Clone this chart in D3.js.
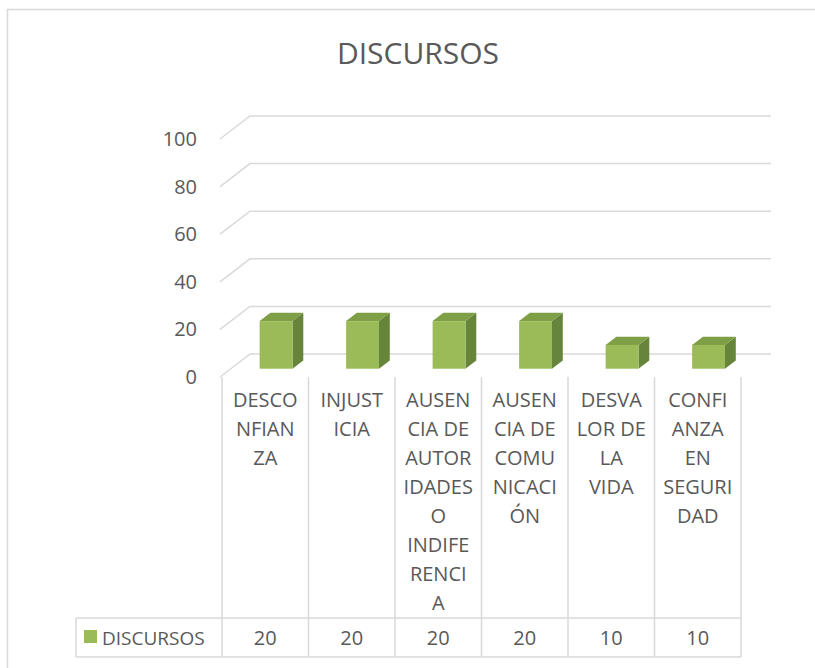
<!DOCTYPE html>
<html>
<head>
<meta charset="utf-8">
<script src="https://cdn.jsdelivr.net/npm/d3@7"></script>
<style>
  body { margin: 0; background: #fff; }
  svg text { font-family: "Open Sans", sans-serif; fill: #595959; }
</style>
</head>
<body>
<svg id="chart" width="815" height="668"></svg>
<script>
// data
var title = "DISCURSOS";
var seriesName = "DISCURSOS";
var categories = ["DESCONFIANZA", "INJUSTICIA", "AUSENCIA DE AUTORIDADES O INDIFERENCIA",
  "AUSENCIA DE COMUNICACIÓN", "DESVALOR DE LA VIDA", "CONFIANZA EN SEGURIDAD"];
var values = [20, 20, 20, 20, 10, 10];
var labelLines = [
  ["DESCO", "NFIAN", "ZA"],
  ["INJUST", "ICIA"],
  ["AUSEN", "CIA DE", "AUTOR", "IDADES", "O", "INDIFE", "RENCI", "A"],
  ["AUSEN", "CIA DE", "COMU", "NICACI", "ÓN"],
  ["DESVA", "LOR DE", "LA", "VIDA"],
  ["CONFI", "ANZA", "EN", "SEGURI", "DAD"]
];
var yTicks = [0, 20, 40, 60, 80, 100];

var grid = "#d9d9d9";
var svg = d3.select("#chart");

// 3d offset of the back wall
var depthX = 30, depthY = -23;

var x = d3.scaleBand().domain(categories).range([222, 741]);
var y = d3.scaleLinear().domain([0, 100]).range([377, 139]);

// outer frame
svg.append("rect")
  .attr("x", 7.5).attr("y", 9.5)
  .attr("width", 830).attr("height", 700)
  .attr("fill", "none").attr("stroke", grid).attr("stroke-width", 1.5);

svg.append("text")
  .attr("x", 418).attr("y", 64)
  .attr("text-anchor", "middle")
  .style("font-size", "30px")
  .text(title);

// gridlines (diagonal on the side wall, then straight along the back)
svg.append("g").selectAll("path")
  .data(yTicks).enter()
  .append("path")
  .attr("d", function(d) {
    var y0 = y(d);
    return "M220," + y0 + "L" + (220 + depthX) + "," + (y0 + depthY) +
      "L" + (x.range()[1] + depthX) + "," + (y0 + depthY);
  })
  .attr("fill", "none").attr("stroke", grid).attr("stroke-width", 1.5);

var yAxis = svg.append("g")
  .attr("transform", "translate(205,0)")
  .call(d3.axisLeft(y).tickValues(yTicks).tickSize(0).tickPadding(8));
yAxis.select(".domain").remove();
yAxis.selectAll("text")
  .style("font-size", "20px").style("fill", "#595959")
  .style("font-family", "'Open Sans', sans-serif");

// bars
var t0 = 0.36, t1 = 0.72;
var barW = x.bandwidth() * 0.38;
var bars = svg.append("g").selectAll("g")
  .data(values).enter()
  .append("g");

function pt(px, py) { return px + "," + py; }

bars.each(function(v, i) {
  var g = d3.select(this);
  var cx = x(categories[i]) + x.bandwidth() / 2;
  var fx0 = cx - barW / 2 + t0 * depthX, fx1 = fx0 + barW;
  var ft = y(v) + t0 * depthY, fb = y(0) + t0 * depthY;
  var ddx = (t1 - t0) * depthX, ddy = (t1 - t0) * depthY;
  g.append("polygon") // side
    .attr("points", [pt(fx1, ft), pt(fx1 + ddx, ft + ddy), pt(fx1 + ddx, fb + ddy), pt(fx1, fb)].join(" "))
    .attr("fill", "#66853a");
  g.append("polygon") // top
    .attr("points", [pt(fx0, ft), pt(fx0 + ddx, ft + ddy), pt(fx1 + ddx, ft + ddy), pt(fx1, ft)].join(" "))
    .attr("fill", "#7f9f46");
  g.append("rect") // front
    .attr("x", fx0).attr("y", ft)
    .attr("width", barW).attr("height", fb - ft)
    .attr("fill", "#9bbb59");
});

// data table under the plot
var tableTop = 377, rowTop = 618, rowBottom = 657, legendLeft = 76;
var table = svg.append("g")
  .attr("stroke", grid).attr("stroke-width", 1.5);
var edges = categories.map(function(c) { return x(c); }).concat([x.range()[1]]);
table.selectAll("line.v")
  .data(edges).enter()
  .append("line")
  .attr("x1", function(d) { return d; }).attr("x2", function(d) { return d; })
  .attr("y1", tableTop).attr("y2", rowBottom);
table.append("line")
  .attr("x1", legendLeft).attr("x2", x.range()[1]).attr("y1", rowTop).attr("y2", rowTop);
table.append("line")
  .attr("x1", legendLeft).attr("x2", x.range()[1]).attr("y1", rowBottom).attr("y2", rowBottom);
table.append("line")
  .attr("x1", legendLeft).attr("x2", legendLeft).attr("y1", rowTop).attr("y2", rowBottom);

// category labels, wrapped like the original
var labels = svg.append("g").selectAll("text")
  .data(labelLines).enter()
  .append("text")
  .attr("text-anchor", "middle")
  .style("font-size", "20px");
labels.each(function(lines, i) {
  var cx = x(categories[i]) + x.bandwidth() / 2;
  d3.select(this).selectAll("tspan")
    .data(lines).enter()
    .append("tspan")
    .attr("x", cx)
    .attr("y", function(d, j) { return 407 + j * 29; })
    .text(function(d) { return d; });
});

// values row
svg.append("g").selectAll("text")
  .data(values).enter()
  .append("text")
  .attr("x", function(d, i) { return x(categories[i]) + x.bandwidth() / 2; })
  .attr("y", 645)
  .attr("text-anchor", "middle")
  .style("font-size", "20px")
  .text(function(d) { return d; });

// legend key
svg.append("rect")
  .attr("x", 84).attr("y", 630).attr("width", 13).attr("height", 13)
  .attr("fill", "#9bbb59");
svg.append("text")
  .attr("x", 102).attr("y", 645)
  .style("font-size", "19px")
  .text(seriesName);
</script>
</body>
</html>
